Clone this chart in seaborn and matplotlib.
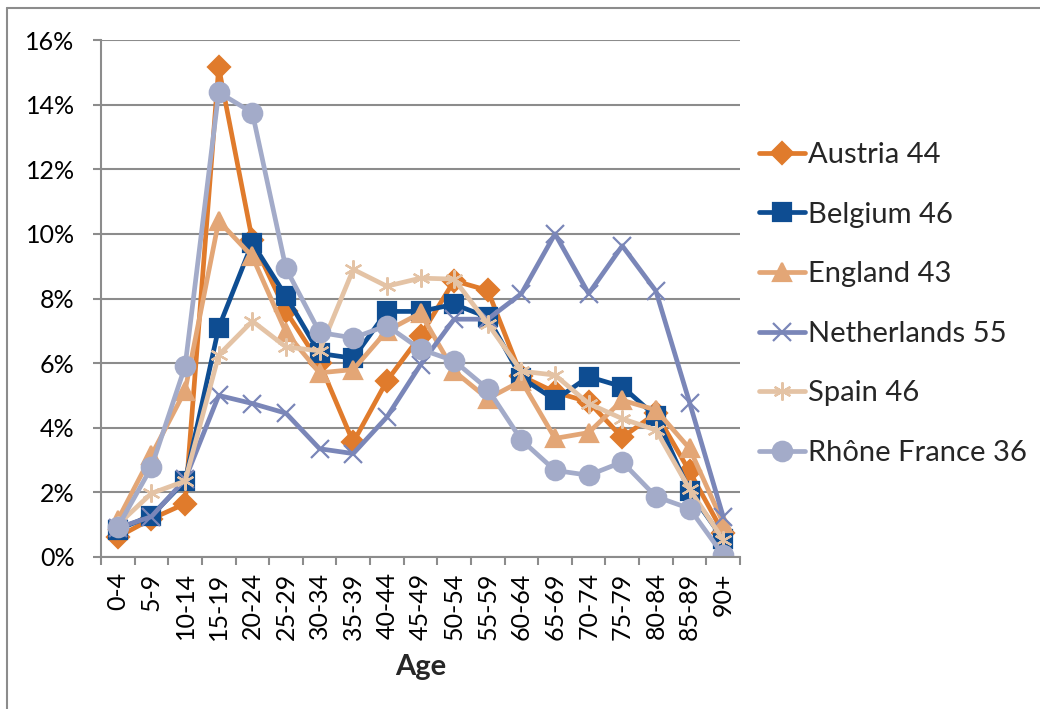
import pandas as pd
import matplotlib.pyplot as plt
import seaborn as sns
from matplotlib.ticker import PercentFormatter, FixedLocator
from matplotlib.lines import Line2D

ages = ['0-4', '5-9', '10-14', '15-19', '20-24', '25-29', '30-34', '35-39', '40-44',
        '45-49', '50-54', '55-59', '60-64', '65-69', '70-74', '75-79', '80-84',
        '85-89', '90+']

austria = [0.62, 1.18, 1.65, 15.15, 9.8, 7.6, 6.0, 3.55, 5.45, 6.85, 8.55, 8.25,
           5.6, 5.1, 4.8, 3.7, 4.45, 2.65, 0.75]
belgium = [0.85, 1.28, 2.35, 7.1, 9.72, 8.07, 6.3, 6.15, 7.6, 7.6, 7.82, 7.42,
           5.55, 4.86, 5.58, 5.27, 4.35, 2.03, 0.55]
england = [1.15, 3.15, 5.15, 10.4, 9.3, 6.95, 5.7, 5.8, 7.0, 7.55, 5.75, 4.9,
           5.45, 3.67, 3.85, 4.85, 4.55, 3.36, 1.05]
netherlands = [0.9, 1.25, 2.4, 5.0, 4.75, 4.45, 3.35, 3.2, 4.33, 5.95, 7.36, 7.36,
               8.15, 10.0, 8.15, 9.63, 8.23, 4.78, 1.25]
spain = [1.0, 1.97, 2.35, 6.25, 7.3, 6.5, 6.38, 8.9, 8.38, 8.63, 8.6, 7.22,
         5.75, 5.63, 4.75, 4.28, 3.93, 2.1, 0.53]
rhone = [0.93, 2.78, 5.9, 14.38, 13.75, 8.93, 6.95, 6.78, 7.16, 6.43, 6.07, 5.2,
         3.62, 2.68, 2.53, 2.94, 1.87, 1.5, 0.06]

labels = ['Austria 44', 'Belgium 46', 'England 43', 'Netherlands 55', 'Spain 46',
          'Rhône France 36']
series = [austria, belgium, england, netherlands, spain, rhone]
colors = ['#E07B2C', '#0E4D92', '#E3A676', '#7A86B8', '#E4C3A5', '#A3ABC9']
markers = ['D', 's', '^', 'x', (6, 2, 0), 'o']
msizes = [11, 13.5, 13.5, 13, 13, 14]

sns.set_style('white')
plt.rcParams['font.family'] = ['Lato', 'DejaVu Sans']

fig = plt.figure(figsize=(10.4, 7.09), dpi=100)
ax = fig.add_axes([101 / 1040, 1 - 557 / 709, 639 / 1040, 517 / 709])

for lab, vals, col, mk, ms in zip(labels, series, colors, markers, msizes):
    df = pd.DataFrame({'Age': ages, 'Share': vals})
    sns.lineplot(data=df, x='Age', y='Share', ax=ax, color=col, lw=3.4, sort=False,
                 marker=mk, markersize=ms, markerfacecolor=col, markeredgecolor=col,
                 markeredgewidth=1.6, label=lab)

grid_col = '#8C8C8C'
ax.set_ylim(0, 16)
ax.set_xlim(-0.5, len(ages) - 0.5)
ax.set_yticks(range(0, 17, 2))
ax.yaxis.set_major_formatter(PercentFormatter(decimals=0))
ax.grid(axis='y', color=grid_col, lw=1.5)
ax.set_axisbelow(True)
for s in ['top', 'right']:
    ax.spines[s].set_visible(False)
for s in ['left', 'bottom']:
    ax.spines[s].set_color(grid_col)
    ax.spines[s].set_linewidth(1.5)

ax.set_xticks(range(len(ages)))
ax.set_xticklabels(ages, rotation=90)
ax.xaxis.set_minor_locator(FixedLocator([i - 0.5 for i in range(len(ages) + 1)]))
ax.tick_params(axis='x', which='major', length=0, pad=11, labelsize=18, colors='black')
ax.tick_params(axis='x', which='minor', length=6, width=1.5, color=grid_col, bottom=True)
ax.tick_params(axis='y', length=6, width=1.5, color=grid_col, pad=13, labelsize=18,
               left=True)
for t in ax.get_xticklabels() + ax.get_yticklabels():
    t.set_color('black')

ax.set_xlabel('Age', fontsize=21, fontweight='bold', labelpad=10)
ax.set_ylabel('')

leg = ax.legend(loc='center left', bbox_to_anchor=(744 / 1040, 1 - 304 / 709),
                bbox_transform=fig.transFigure, frameon=False, fontsize=21,
                handlelength=1.6, handletextpad=0.08, labelspacing=1.15, borderpad=0)

# chart frame
fig.add_artist(Line2D([7 / 1040, 1.0], [1 - 8 / 709] * 2, color=grid_col, lw=1.5))
fig.add_artist(Line2D([7 / 1040] * 2, [0.0, 1 - 8 / 709], color=grid_col, lw=1.5))

plt.savefig('out.png', dpi=100)
